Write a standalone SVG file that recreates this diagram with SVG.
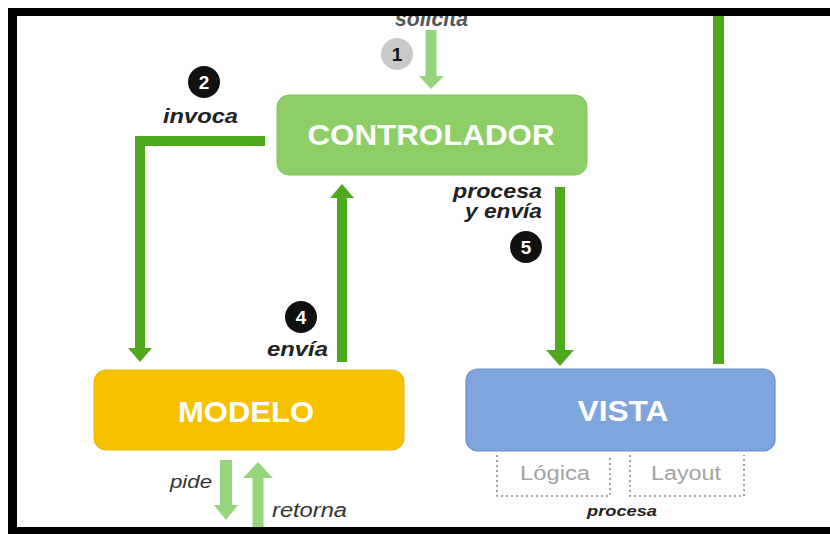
<svg xmlns="http://www.w3.org/2000/svg" width="830" height="534" viewBox="0 0 830 534">
<style>
.lbl{font-family:"Liberation Sans",Arial,sans-serif;font-style:italic;font-weight:bold;fill:#222;}
.lblr{font-family:"Liberation Sans",Arial,sans-serif;font-style:italic;fill:#333;}
.big{font-family:"Liberation Sans",Arial,sans-serif;font-weight:bold;fill:#fff;font-size:30px;text-anchor:middle;}
.num{font-family:"Liberation Sans",Arial,sans-serif;font-weight:bold;font-size:19px;text-anchor:middle;}
.sub{font-family:"Liberation Sans",Arial,sans-serif;fill:#a3a3a3;font-size:20px;}
.dk{stroke:#4ea91f;stroke-width:10;fill:none;}
.lt{stroke:#96d57b;fill:none;}
.dash{fill:none;stroke:#8a8a8a;stroke-width:1.6;stroke-dasharray:2 3;}
</style>
<rect x="0" y="0" width="830" height="534" fill="#fff"/>

<g id="connectors">
  <line class="lt" x1="431" y1="30" x2="431" y2="78" stroke-width="11"/>
  <polygon points="419,76 444,76 431,89" fill="#96d57b"/>
  <path class="dk" d="M265,141 H140 V350"/>
  <polygon points="128,348 152,348 140,362" fill="#4ea91f"/>
  <line class="dk" x1="342" y1="362" x2="342" y2="196"/>
  <polygon points="330,198 354,198 342,184" fill="#4ea91f"/>
  <line class="dk" x1="560" y1="187" x2="560" y2="352"/>
  <polygon points="546,350 574,350 560,366" fill="#4ea91f"/>
  <line x1="718.5" y1="10" x2="718.5" y2="364" stroke="#4ea91f" stroke-width="11"/>
  <line class="lt" x1="226" y1="460" x2="226" y2="507" stroke-width="12"/>
  <polygon points="214,505 238,505 226,520" fill="#96d57b"/>
  <line class="lt" x1="258" y1="476" x2="258" y2="534" stroke-width="11"/>
  <polygon points="243,478 273,478 258,462" fill="#96d57b"/>
</g>

<g id="controlador">
  <rect x="277" y="95" width="310" height="80" rx="12" fill="#8dcf66" stroke="#82c45c" stroke-width="1"/>
  <text class="big" x="431" y="145" textLength="247" lengthAdjust="spacingAndGlyphs">CONTROLADOR</text>
</g>

<g id="modelo">
  <rect x="94" y="370" width="310" height="80" rx="12" fill="#f6c200" stroke="#eab400" stroke-width="1"/>
  <text class="big" x="246" y="422" textLength="136" lengthAdjust="spacingAndGlyphs">MODELO</text>
</g>

<g id="vista">
  <rect x="466" y="369" width="309" height="82" rx="12" fill="#7ea6dc" stroke="#6a8ec6" stroke-width="1.2"/>
  <text class="big" x="623" y="421" textLength="91" lengthAdjust="spacingAndGlyphs">VISTA</text>
</g>

<g id="logica">
  <path class="dash" d="M497,455 V496 H610 V455"/>
  <text class="sub" x="520" y="480" textLength="70" lengthAdjust="spacingAndGlyphs">Lógica</text>
</g>

<g id="layout">
  <path class="dash" d="M630,455 V496 H744 V455"/>
  <text class="sub" x="651" y="480" textLength="70" lengthAdjust="spacingAndGlyphs">Layout</text>
</g>

<g id="step1">
  <circle cx="397" cy="54" r="16" fill="#c9c9c9"/>
  <text class="num" x="397" y="61" fill="#111">1</text>
  <text class="lbl" x="395" y="26" font-size="22" style="fill:#555" textLength="73" lengthAdjust="spacingAndGlyphs">solicita</text>
</g>

<g id="step2">
  <circle cx="204" cy="82" r="16" fill="#111"/>
  <text class="num" x="204" y="89" fill="#fff">2</text>
  <text class="lbl" x="163" y="123" font-size="20" textLength="75" lengthAdjust="spacingAndGlyphs">invoca</text>
</g>

<g id="step4">
  <circle cx="301" cy="317" r="16" fill="#111"/>
  <text class="num" x="301" y="324" fill="#fff">4</text>
  <text class="lbl" x="267" y="356" font-size="20" textLength="61" lengthAdjust="spacingAndGlyphs">envía</text>
</g>

<g id="step5">
  <circle cx="526" cy="247" r="16" fill="#111"/>
  <text class="num" x="526" y="254" fill="#fff">5</text>
  <text class="lbl" x="453" y="198" font-size="20" textLength="89" lengthAdjust="spacingAndGlyphs">procesa</text>
  <text class="lbl" x="465" y="218" font-size="20" textLength="77" lengthAdjust="spacingAndGlyphs">y envía</text>
</g>

<g id="labels">
  <text class="lblr" x="170" y="488" font-size="19" textLength="42" lengthAdjust="spacingAndGlyphs">pide</text>
  <text class="lblr" x="272" y="517" font-size="20" textLength="75" lengthAdjust="spacingAndGlyphs">retorna</text>
  <text class="lbl" x="587" y="516" font-size="15" textLength="70" lengthAdjust="spacingAndGlyphs">procesa</text>
</g>

<g id="frame">
  <rect x="8" y="8" width="822" height="8" fill="#000"/>
  <rect x="8" y="8" width="9" height="526" fill="#000"/>
  <rect x="8" y="527" width="822" height="7" fill="#000"/>
</g>
</svg>
